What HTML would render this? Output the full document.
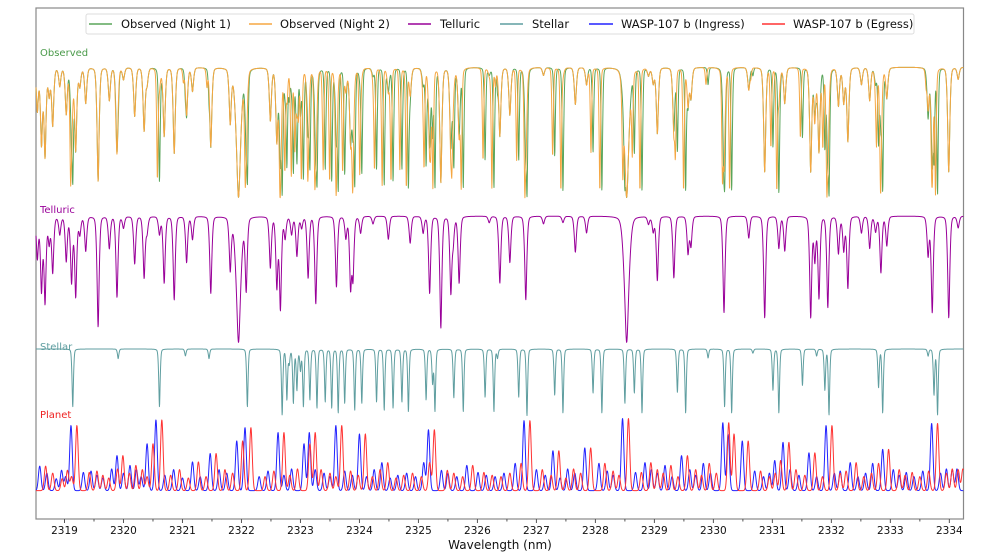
<!DOCTYPE html>
<html><head><meta charset="utf-8"><style>
html,body{margin:0;padding:0;background:#fff;}
svg{display:block;font-family:"DejaVu Sans","Liberation Sans",sans-serif;}
</style></head><body>
<svg id="chart" width="1000" height="556" viewBox="0 0 1000 556">
<rect x="36" y="8" width="927.5" height="511" fill="#fff" stroke="#888" stroke-width="1.2"/>
<g id="series"></g>
<g id="axis"></g>
<text x="40" y="56" font-size="10" fill="#4a9a4a">Observed</text>
<text x="40" y="213" font-size="10" fill="#990099">Telluric</text>
<text x="40" y="350" font-size="10" fill="#5f9ea0">Stellar</text>
<text x="40" y="418" font-size="10" fill="#ee2222">Planet</text>
<text x="500" y="549" font-size="12" text-anchor="middle" fill="#111">Wavelength (nm)</text>
<g>
<rect x="86" y="14" width="828" height="20" rx="2" fill="#fff" fill-opacity="0.85" stroke="#ddd"/>
<g><line x1="89" y1="24" x2="112" y2="24" stroke="#5aa55a" stroke-width="1.5"/><text x="121" y="28" font-size="11.5" fill="#111">Observed (Night 1)</text></g>
<g><line x1="249" y1="24" x2="272" y2="24" stroke="#f5a742" stroke-width="1.5"/><text x="280" y="28" font-size="11.5" fill="#111">Observed (Night 2)</text></g>
<g><line x1="408" y1="24" x2="431" y2="24" stroke="#990099" stroke-width="1.5"/><text x="440" y="28" font-size="11.5" fill="#111">Telluric</text></g>
<g><line x1="500" y1="24" x2="523" y2="24" stroke="#5f9ea0" stroke-width="1.5"/><text x="532" y="28" font-size="11.5" fill="#111">Stellar</text></g>
<g><line x1="589" y1="24" x2="613" y2="24" stroke="#2222ff" stroke-width="1.5"/><text x="621" y="28" font-size="11.5" fill="#111">WASP-107 b (Ingress)</text></g>
<g><line x1="762" y1="24" x2="785" y2="24" stroke="#ff3333" stroke-width="1.5"/><text x="793" y="28" font-size="11.5" fill="#111">WASP-107 b (Egress)</text></g>
</g>
</svg>
<script>
const tickLabels = [2319,2320,2321,2322,2323,2324,2325,2326,2327,2328,2329,2330,2331,2332,2333,2334];
const tellCenters = [2318.54,2318.61,2318.67,2318.74,2318.80,2318.92,2319.03,2319.12,2319.19,2319.26,2319.36,2319.57,2319.76,2319.89,2320.00,2320.19,2320.35,2320.40,2320.61,2320.69,2320.86,2321.07,2321.17,2321.48,2321.81,2322.08,2322.49,2322.60,2322.66,2322.74,2322.85,2322.94,2323.02,2323.13,2323.26,2323.61,2323.77,2323.85,2323.89,2324.02,2324.23,2324.49,2324.86,2325.08,2325.19,2325.38,2325.55,2325.59,2325.69,2326.20,2326.38,2326.55,2326.82,2327.12,2327.45,2327.66,2327.85,2328.90,2328.98,2329.05,2329.33,2329.57,2329.62,2330.18,2330.60,2330.87,2331.11,2331.21,2331.65,2331.72,2331.79,2331.94,2332.12,2332.21,2332.28,2332.51,2332.65,2332.75,2332.84,2332.94,2333.64,2333.71,2333.99,2334.15];
const tellDepths = [.33,.59,.68,.21,.44,.14,.35,.52,.63,.14,.27,.86,.25,.63,.09,.37,.48,.12,.14,.52,.65,.36,.18,.60,.42,.58,.40,.56,.73,.17,.14,.31,.09,.48,.68,.55,.17,.56,.48,.13,.06,.18,.21,.13,.60,.87,.60,.18,.52,.05,.52,.36,.65,.06,.05,.28,.13,.06,.12,.50,.48,.29,.23,.75,.17,.79,.25,.27,.79,.35,.64,.71,.29,.27,.56,.13,.25,.12,.44,.23,.31,.75,.79,.09];
const tellBroadCenters = [2321.95, 2328.53];
const tellBroadDepths = [.98, .98];
const starCenters = [2319.14,2319.91,2320.61,2321.05,2321.45,2322.10,2322.69,2322.77,2322.81,2322.88,2322.94,2323.00,2323.05,2323.16,2323.28,2323.42,2323.53,2323.64,2323.75,2323.92,2324.04,2324.29,2324.42,2324.57,2324.72,2324.83,2325.13,2325.24,2325.28,2325.60,2325.76,2326.13,2326.28,2326.34,2326.70,2326.84,2327.31,2327.45,2327.96,2328.11,2328.50,2328.66,2328.79,2329.39,2329.53,2329.91,2330.19,2330.31,2330.67,2331.01,2331.11,2331.51,2331.75,2331.89,2331.96,2332.80,2332.87,2333.64,2333.74,2333.80];
const starDepths = [.84,.14,.84,.10,.14,.84,.96,.74,.21,.79,.60,.31,.84,.74,.86,.77,.86,.93,.79,.89,.79,.77,.89,.86,.77,.91,.74,.50,.91,.71,.91,.70,.91,.13,.70,.97,.67,.93,.64,.93,.79,.64,.93,.63,.93,.13,.84,.93,.06,.60,.93,.53,.10,.60,.96,.56,.93,.10,.67,.96];
const planetCenters = [2318.86,2318.95,2319.11,2319.32,2319.80,2319.89,2320.11,2320.40,2320.55,2321.17,2321.47,2321.92,2322.06,2322.62,2322.85,2323.06,2323.15,2323.60,2324.00,2324.38,2325.09,2325.17,2325.39,2325.82,2326.01,2326.64,2326.79,2327.28,2327.53,2327.82,2328.06,2328.46,2328.68,2328.84,2329.18,2329.46,2329.83,2330.16,2330.25,2330.49,2331.04,2331.18,2331.62,2331.91,2332.32,2332.70,2332.87,2333.27,2333.70,2333.95,2334.13];
const planetHeights = [.17,.29,.93,.26,.31,.50,.36,.67,1.01,.41,.53,.71,.90,.83,.31,.67,.83,.93,.81,.40,.40,.87,.29,.36,.26,.39,1.0,.57,.31,.61,.39,1.03,.26,.40,.36,.50,.39,.97,.81,.71,.43,.69,.54,.93,.40,.39,.59,.26,.96,.31,.31];
const planetMinorCenters = [2318.58,2318.70,2319.02,2319.45,2319.55,2319.65,2320.00,2320.22,2320.30,2320.70,2320.85,2321.00,2321.30,2321.62,2321.75,2322.30,2322.45,2322.72,2323.25,2323.40,2323.50,2323.75,2323.88,2324.12,2324.25,2324.52,2324.65,2324.80,2324.95,2325.50,2325.65,2326.15,2326.30,2326.45,2327.00,2327.15,2327.40,2327.65,2328.20,2328.30,2328.95,2329.05,2329.30,2329.60,2329.70,2329.95,2330.70,2330.85,2330.95,2331.30,2331.45,2331.75,2332.05,2332.15,2332.45,2332.58,2333.05,2333.15,2333.40,2333.55,2333.85,2334.05];
const planetMinorHeights = [.35,.25,.2,.28,.22,.18,.25,.3,.2,.22,.3,.18,.2,.3,.25,.2,.28,.22,.3,.25,.2,.28,.22,.2,.3,.18,.22,.25,.2,.25,.2,.22,.2,.25,.3,.22,.18,.25,.28,.22,.3,.25,.2,.3,.22,.25,.28,.2,.25,.3,.22,.2,.25,.28,.2,.25,.3,.22,.2,.28,.25,.3];
const night2StellarShift = -0.035;
const egressShift = 0.10;

const X0 = 2318.517, X1 = 2334.24, PX0 = 36, PX1 = 963.5;
function xs(l){ return PX0 + (l - X0) / (X1 - X0) * (PX1 - PX0); }
function yObs(f){ return 67 + (1 - f) * 133; }
function yTell(f){ return 216 + (1 - f) * 129; }
function yStar(f){ return 349 + (1 - f) * 69; }
function yPlan(p){ return 492 - p * 70; }
function prof(x, c, w){ const d = (x - c) / w; return 0.55 * Math.exp(-0.5 * d * d) + 0.45 / (1 + 2 * d * d); }
function tell(x){
  let f = 1;
  for (let i = 0; i < tellCenters.length; i++) f *= 1 - tellDepths[i] * prof(x, tellCenters[i], 0.021);
  for (let i = 0; i < tellBroadCenters.length; i++) f *= 1 - tellBroadDepths[i] * prof(x, tellBroadCenters[i], 0.045);
  return f;
}
function star(x, s){
  let f = 1;
  for (let i = 0; i < starCenters.length; i++) f *= 1 - starDepths[i] * prof(x, starCenters[i] + s, 0.014);
  return f;
}
function planet(x, s){
  let p = 0.02;
  for (let i = 0; i < planetCenters.length; i++){ const d = (x - planetCenters[i] - s) / 0.022; p += planetHeights[i] * Math.exp(-0.5 * d * d); }
  for (let i = 0; i < planetMinorCenters.length; i++){ const d = (x - planetMinorCenters[i] - s) / 0.022; p += planetMinorHeights[i] * Math.exp(-0.5 * d * d); }
  return Math.min(p, 1.1);
}
const NS = "http://www.w3.org/2000/svg";
const g = document.getElementById('series');
function addPath(fn, yf, color, name, w){
  let d = '';
  for (let x = X0; x <= X1; x += 0.004){ d += (d ? 'L' : 'M') + xs(x).toFixed(2) + ',' + yf(fn(x)).toFixed(2); }
  const p = document.createElementNS(NS, 'path');
  p.setAttribute('d', d); p.setAttribute('fill', 'none'); p.setAttribute('stroke', color);
  p.setAttribute('stroke-width', w || 1); p.setAttribute('stroke-linejoin', 'round');
  
  
  g.appendChild(p);
}
addPath(x => tell(x) * star(x, 0), yObs, '#5aa55a', 'observed-night1-line');
addPath(x => tell(x) * star(x, night2StellarShift), yObs, '#f5a742', 'observed-night2-line');
addPath(tell, yTell, '#990099', 'telluric-line');
addPath(x => star(x, 0), yStar, '#5f9ea0', 'stellar-line');
addPath(x => planet(x, 0), yPlan, '#2222ff', 'ingress-line');
addPath(x => planet(x, egressShift), yPlan, '#ff3333', 'egress-line');

const ax = document.getElementById('axis');
for (let i = 0; i < tickLabels.length; i++){
  const v = tickLabels[i], x = xs(v);
  const t = document.createElementNS(NS, 'line');
  t.setAttribute('x1', x); t.setAttribute('x2', x); t.setAttribute('y1', 519); t.setAttribute('y2', 523);
  t.setAttribute('stroke', '#555');
  
  
  ax.appendChild(t);
  const xm = xs(v + 0.5);
  if (v + 0.5 < X1){
    const m = document.createElementNS(NS, 'line');
    m.setAttribute('x1', xm); m.setAttribute('x2', xm); m.setAttribute('y1', 519); m.setAttribute('y2', 521.5);
    m.setAttribute('stroke', '#555');
    
    
    ax.appendChild(m);
  }
  const tx = document.createElementNS(NS, 'text');
  tx.setAttribute('x', x); tx.setAttribute('y', 534); tx.setAttribute('font-size', '10.5');
  tx.setAttribute('text-anchor', 'middle'); tx.setAttribute('fill', '#111');
  tx.textContent = v;
  
  
  ax.appendChild(tx);
}
</script>
</body></html>
